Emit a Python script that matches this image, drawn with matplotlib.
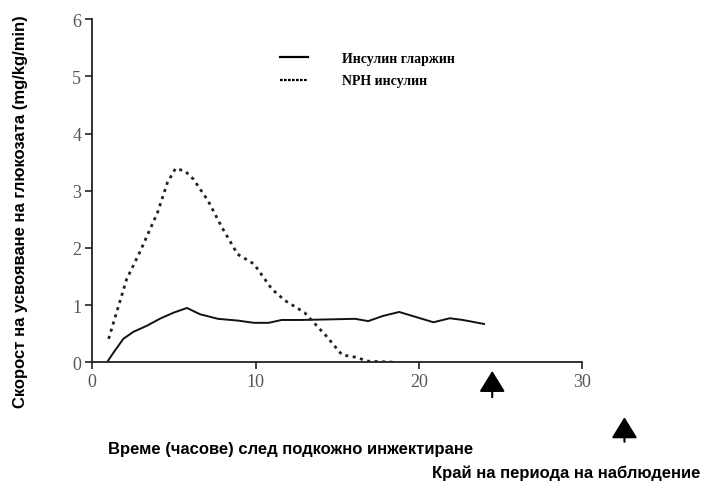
import matplotlib
matplotlib.use("Agg")
import matplotlib.pyplot as plt
from matplotlib.lines import Line2D

# Инсулин гларжин (плътна линия)
glargine_t = [0.9, 1.3, 1.9, 2.5, 3.35, 4.2, 5.0, 5.8, 6.6, 7.7, 8.9, 9.9, 10.8,
              11.6, 12.8, 14.5, 16.1, 16.9, 17.8, 18.8, 20.2, 20.9, 21.9, 22.7, 24.0]
glargine_v = [0.0, 0.17, 0.41, 0.53, 0.64, 0.77, 0.87, 0.95, 0.84, 0.76, 0.73, 0.69, 0.69,
              0.74, 0.74, 0.75, 0.76, 0.72, 0.81, 0.88, 0.76, 0.70, 0.77, 0.74, 0.67]

# NPH инсулин (пунктир)
nph_t = [1.0, 2.1, 2.9, 4.0, 4.6, 5.1, 5.7, 6.2, 7.1, 7.9, 8.9, 9.9, 11.0,
         11.8, 13.0, 14.3, 15.3, 16.1, 16.9, 18.6]
nph_v = [0.41, 1.45, 1.92, 2.62, 3.14, 3.39, 3.34, 3.2, 2.82, 2.38, 1.89, 1.72, 1.28,
         1.08, 0.87, 0.47, 0.13, 0.09, 0.02, 0.0]

x_ticks = [0, 10, 20, 30]
y_ticks = [0, 1, 2, 3, 4, 5, 6]

# стрелки за край на наблюдението (x, y долу, y горе)
arrow_x = [24.5, 32.6]
arrow_y0 = [-0.61, -1.39]
arrow_y1 = [-0.15, -0.96]

W, H = 701, 489
fig = plt.figure(figsize=(W / 100, H / 100), dpi=100)
ax = fig.add_axes([92.3 / W, 1 - 363.3 / H, (582 - 92.3) / W, (363.3 - 20.1) / H])

ax.plot(glargine_t, glargine_v, color="#111111", lw=1.4, solid_joinstyle="round")
ax.plot(nph_t, nph_v, color="#222222", lw=2.0, dashes=(1.1, 1.6))

ax.set_xlim(0, 30)
ax.set_ylim(0, 6)
ax.set_xticks(x_ticks)
ax.set_yticks(y_ticks)
for s in ["top", "right"]:
    ax.spines[s].set_visible(False)
for s in ["left", "bottom"]:
    ax.spines[s].set_linewidth(1.3)
    ax.spines[s].set_color("#222222")
ax.tick_params(length=5, width=1.2, color="#222222", labelcolor="#555555", labelsize=13, pad=3)
for lab in ax.get_xticklabels() + ax.get_yticklabels():
    lab.set_family("Liberation Serif")

# легенда
handles = [Line2D([], [], color="black", lw=1.6),
           Line2D([], [], color="black", lw=1.6, dashes=(1.2, 0.6))]
ax.legend(handles, ["Инсулин гларжин", "NPH инсулин"], loc="upper left",
          bbox_to_anchor=(0.383, 0.905), frameon=False, borderpad=0, borderaxespad=0,
          handlelength=2.0, handletextpad=2.5, labelspacing=0.7,
          prop={"family": "Liberation Serif", "weight": "bold", "size": 10})

for x, y0, y1 in zip(arrow_x, arrow_y0, arrow_y1):
    ax.annotate("", xy=(x, y1), xytext=(x, y0), annotation_clip=False,
                arrowprops=dict(arrowstyle="-|>,head_length=1.3,head_width=0.8",
                                color="black", lw=1.5, shrinkA=0, shrinkB=0))

fig.text(21 / W, 1 - 212 / H, "Скорост на усвояване на глюкозата (mg/kg/min)",
         rotation=90, ha="center", va="center", fontsize=12, fontweight="bold",
         family="Liberation Sans")
fig.text(291 / W, 1 - 450 / H, "Време (часове) след подкожно инжектиране",
         ha="center", va="center", fontsize=12, fontweight="bold", family="Liberation Sans")
fig.text(566 / W, 1 - 473 / H, "Край на периода на наблюдение",
         ha="center", va="center", fontsize=12, fontweight="bold", family="Liberation Sans")

fig.savefig("out.png", dpi=100)
